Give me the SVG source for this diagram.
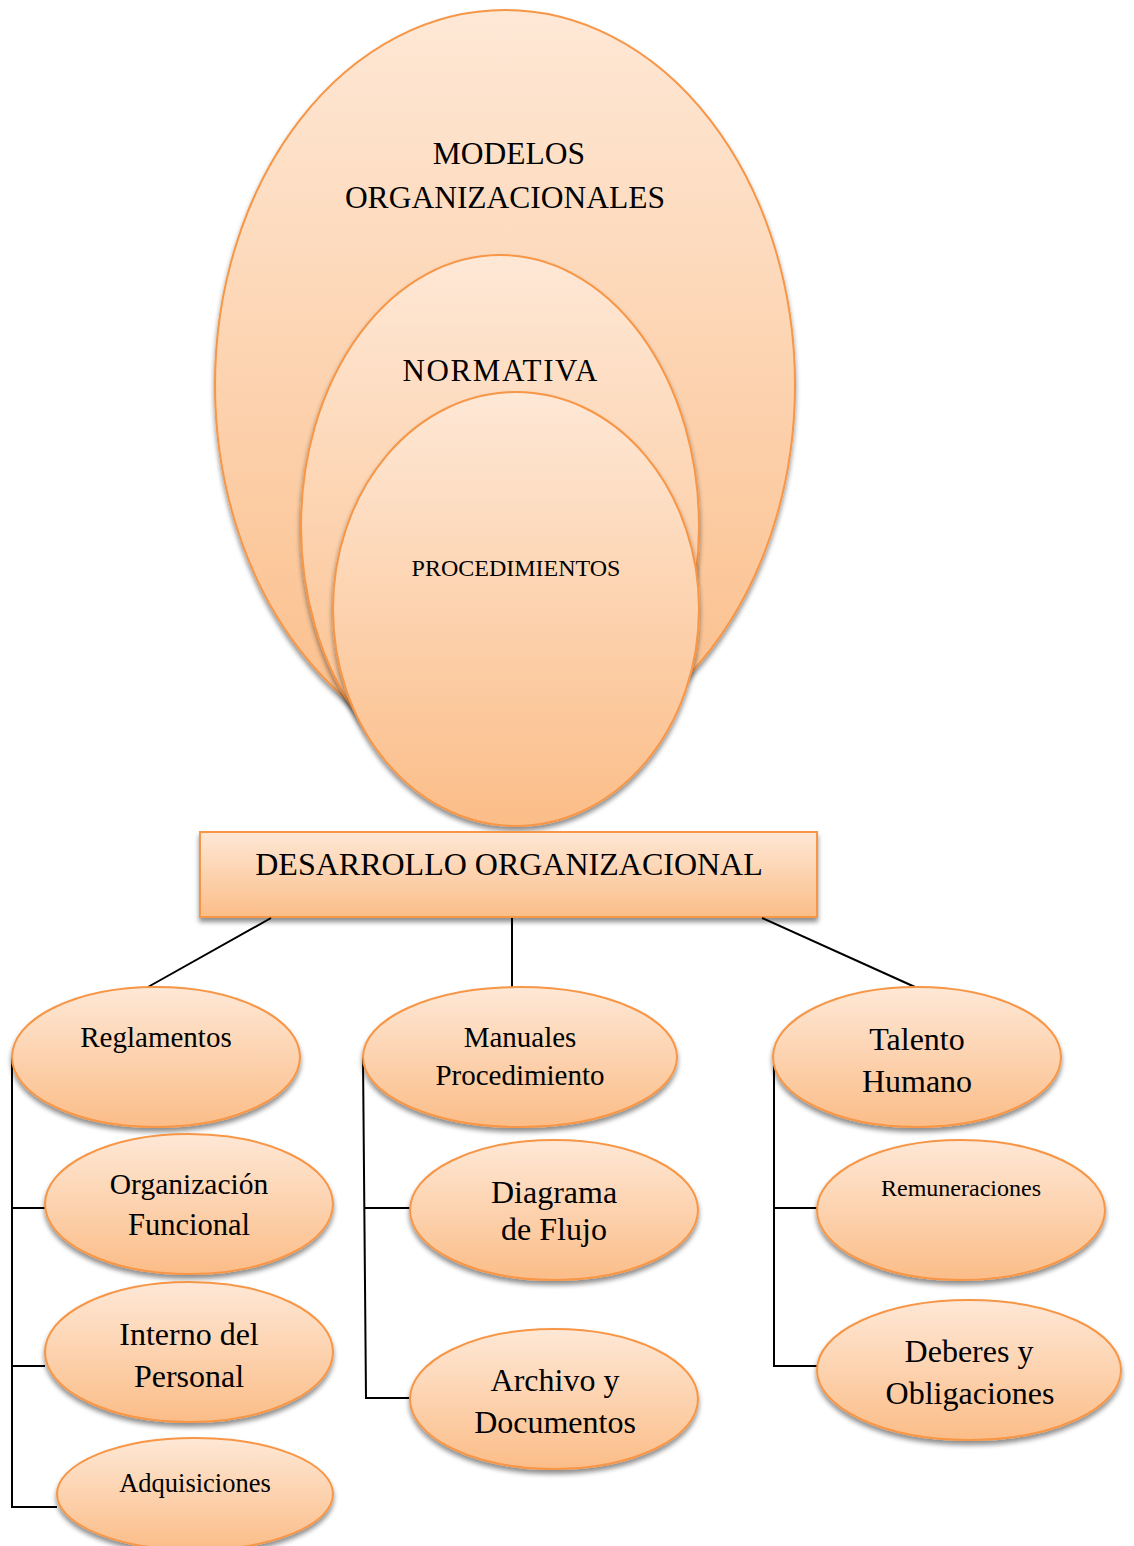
<svg xmlns="http://www.w3.org/2000/svg" width="1134" height="1546" viewBox="0 0 1134 1546">
<defs>
<linearGradient id="g" x1="0" y1="0" x2="0" y2="1">
<stop offset="0" stop-color="#fee8d6"/>
<stop offset="1" stop-color="#fbbd88"/>
</linearGradient>
<filter id="sh" x="-10%" y="-10%" width="120%" height="125%">
<feGaussianBlur in="SourceAlpha" stdDeviation="2.5"/>
<feOffset dx="0" dy="4" result="b"/>
<feComponentTransfer><feFuncA type="linear" slope="0.45"/></feComponentTransfer>
<feMerge><feMergeNode/><feMergeNode in="SourceGraphic"/></feMerge>
</filter>
</defs>
<style>
.n{fill:url(#g);stroke:#f79646;stroke-width:2;filter:url(#sh)}
.t{font-family:"Liberation Serif","Times New Roman",serif;fill:#000;text-anchor:middle}
.c{stroke:#000;stroke-width:2;fill:none}
</style>
<g id="modelos">
<ellipse class="n" cx="505" cy="385" rx="290" ry="375"/>
<text class="t" x="509" y="164" font-size="31.5">MODELOS</text>
<text class="t" x="505" y="208" font-size="31.5">ORGANIZACIONALES</text>
</g>
<g id="normativa">
<ellipse class="n" cx="500" cy="526" rx="199" ry="271"/>
<text class="t" x="500" y="381" font-size="31" textLength="195" lengthAdjust="spacing">NORMATIVA</text>
</g>
<g id="procedimientos">
<ellipse class="n" cx="516" cy="609" rx="183" ry="217"/>
<text class="t" x="516" y="576" font-size="24">PROCEDIMIENTOS</text>
</g>
<g id="desarrollo">
<rect class="n" x="200" y="832" width="617" height="85"/>
<text class="t" x="509" y="875" font-size="32">DESARROLLO ORGANIZACIONAL</text>
</g>
<g id="connectors">
<line class="c" x1="271" y1="918" x2="148" y2="987"/>
<line class="c" x1="512" y1="918" x2="512" y2="987"/>
<line class="c" x1="762" y1="918" x2="915" y2="987"/>
<polyline class="c" points="12,1058 12,1507 57,1507"/>
<line class="c" x1="12" y1="1208" x2="45" y2="1208"/>
<line class="c" x1="12" y1="1366" x2="45" y2="1366"/>
<polyline class="c" points="363,1058 366,1398 410,1398"/>
<line class="c" x1="365" y1="1208" x2="410" y2="1208"/>
<polyline class="c" points="774,1058 774,1366 817,1366"/>
<line class="c" x1="774" y1="1208" x2="817" y2="1208"/>
</g>
<g id="reglamentos">
<ellipse class="n" cx="156" cy="1057" rx="144" ry="70"/>
<text class="t" x="156" y="1047" font-size="29">Reglamentos</text>
</g>
<g id="organizacion">
<ellipse class="n" cx="189" cy="1204" rx="144" ry="70"/>
<text class="t" x="189" y="1194" font-size="29.5">Organización</text>
<text class="t" x="189" y="1235" font-size="30.5">Funcional</text>
</g>
<g id="interno">
<ellipse class="n" cx="189" cy="1352" rx="144" ry="70"/>
<text class="t" x="189" y="1345" font-size="32">Interno del</text>
<text class="t" x="189" y="1387" font-size="32">Personal</text>
</g>
<g id="adquisiciones">
<ellipse class="n" cx="195" cy="1494" rx="138" ry="56"/>
<text class="t" x="195" y="1492" font-size="26.5">Adquisiciones</text>
</g>
<g id="manuales">
<ellipse class="n" cx="520" cy="1057" rx="157" ry="70"/>
<text class="t" x="520" y="1047" font-size="29">Manuales</text>
<text class="t" x="520" y="1085" font-size="29">Procedimiento</text>
</g>
<g id="diagrama">
<ellipse class="n" cx="554" cy="1210" rx="144" ry="70"/>
<text class="t" x="554" y="1203" font-size="32">Diagrama</text>
<text class="t" x="554" y="1240" font-size="32">de Flujo</text>
</g>
<g id="archivo">
<ellipse class="n" cx="554" cy="1399" rx="144" ry="70"/>
<text class="t" x="555" y="1391" font-size="32">Archivo y</text>
<text class="t" x="555" y="1433" font-size="32">Documentos</text>
</g>
<g id="talento">
<ellipse class="n" cx="917" cy="1057" rx="144" ry="70"/>
<text class="t" x="917" y="1050" font-size="32">Talento</text>
<text class="t" x="917" y="1092" font-size="32">Humano</text>
</g>
<g id="remuneraciones">
<ellipse class="n" cx="961" cy="1210" rx="144" ry="70"/>
<text class="t" x="961" y="1196" font-size="24">Remuneraciones</text>
</g>
<g id="deberes">
<ellipse class="n" cx="969" cy="1370" rx="152" ry="70"/>
<text class="t" x="969" y="1362" font-size="32">Deberes y</text>
<text class="t" x="970" y="1404" font-size="32">Obligaciones</text>
</g>
</svg>
